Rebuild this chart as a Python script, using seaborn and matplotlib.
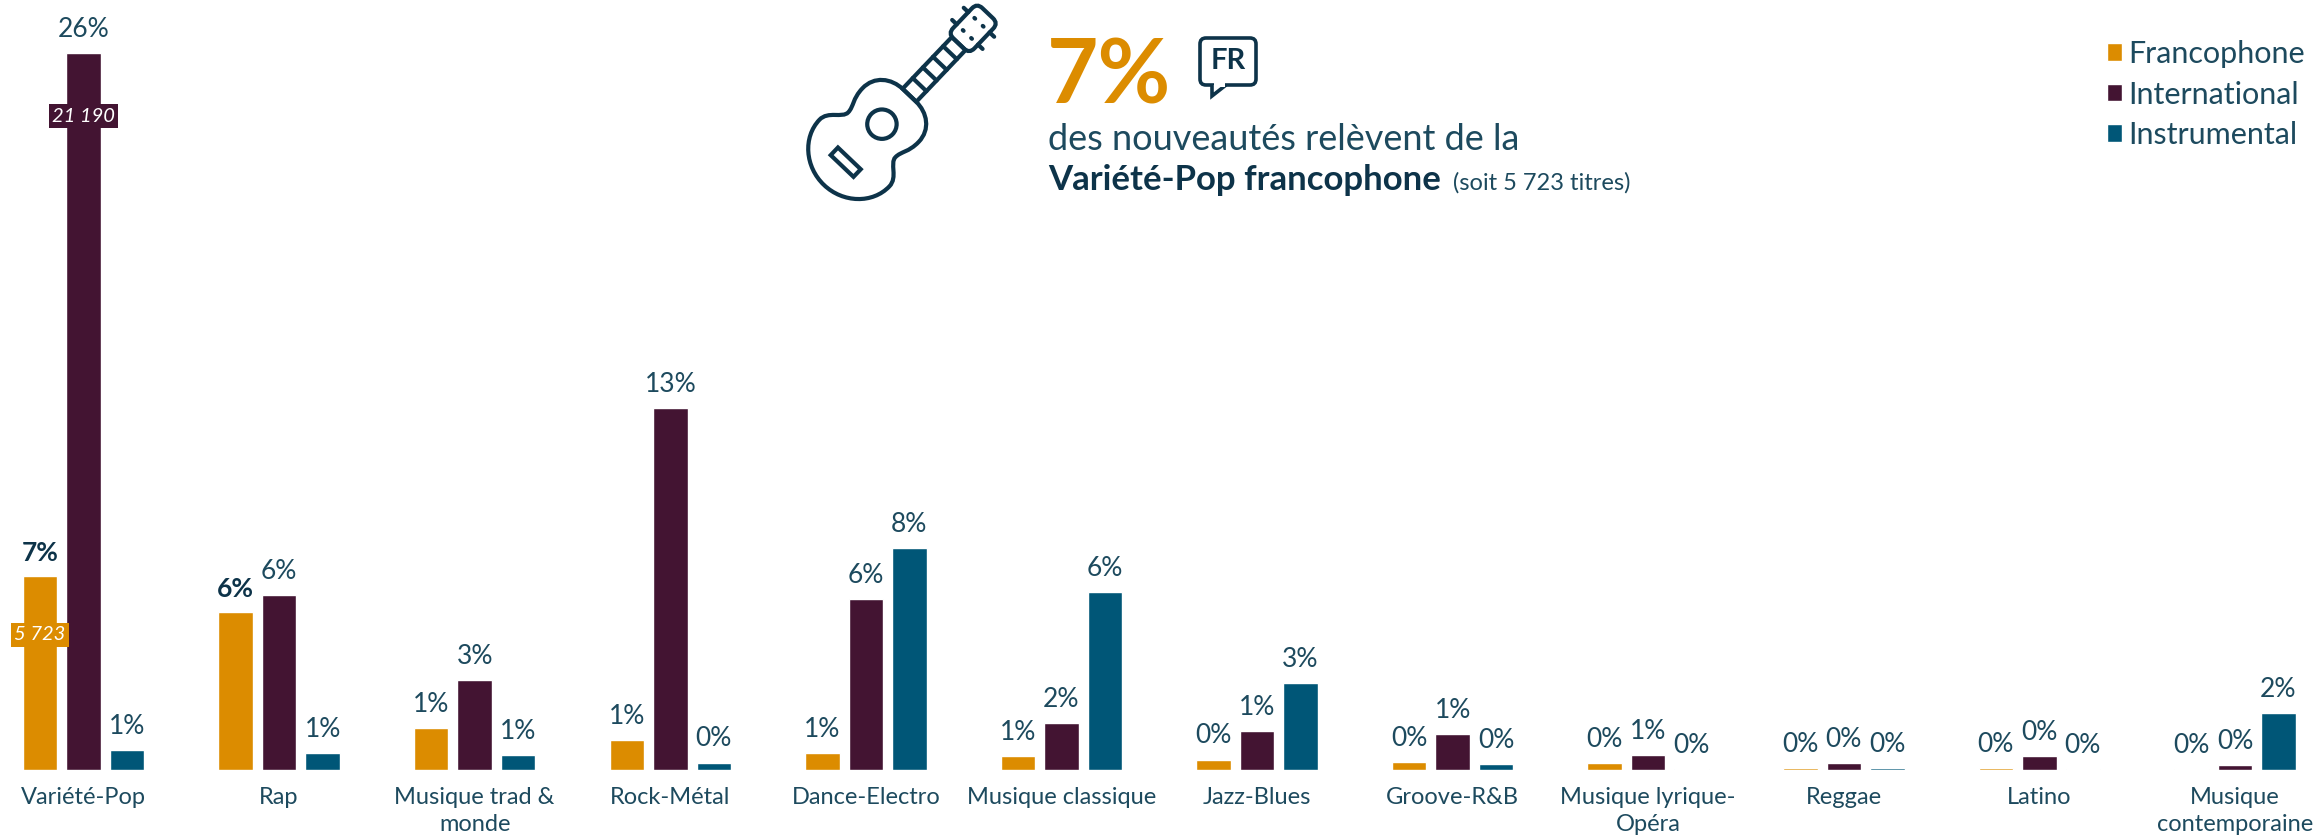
import pandas as pd
import matplotlib
matplotlib.use('Agg')
import matplotlib.pyplot as plt
import seaborn as sns
from matplotlib.patches import Circle, FancyBboxPatch, PathPatch, Rectangle
from matplotlib.path import Path
from matplotlib.transforms import Affine2D

genres = ['Variété-Pop', 'Rap', 'Musique trad &\nmonde', 'Rock-Métal', 'Dance-Electro',
          'Musique classique', 'Jazz-Blues', 'Groove-R&B', 'Musique lyrique-\nOpéra',
          'Reggae', 'Latino', 'Musique\ncontemporaine']
series = ['Francophone', 'International', 'Instrumental']
francophone = [5723, 4670, 1240, 890, 490, 410, 310, 228, 216, 68, 50, 20]
international = [21190, 5170, 2650, 10700, 5060, 1380, 1150, 1070, 453, 207, 404, 157]
instrumental = [580, 490, 450, 220, 6570, 5250, 2580, 177, 20, 50, 20, 1670]
pct_franco = ['7%', '6%', '1%', '1%', '1%', '1%', '0%', '0%', '0%', '0%', '0%', '0%']
pct_inter = ['26%', '6%', '3%', '13%', '6%', '2%', '1%', '1%', '1%', '0%', '0%', '0%']
pct_instru = ['1%', '1%', '1%', '0%', '8%', '6%', '3%', '0%', '0%', '0%', '0%', '2%']
colors = ['#DC8C00', '#431432', '#005677']
text_col = '#1D4A5E'
dark_col = '#0D3349'

df = pd.DataFrame({
    'genre': genres * 3,
    'serie': [s for s in series for _ in genres],
    'titres': francophone + international + instrumental,
})

sns.set_theme(style='white')
plt.rcParams['font.family'] = ['Lato', 'DejaVu Sans']

W, H = 2321, 835
base_px = 770
fig = plt.figure(figsize=(W / 100, H / 100), dpi=100)
ax = fig.add_axes([0, (H - base_px) / H, 1, base_px / H])
sns.barplot(data=df, x='genre', y='titres', hue='serie', order=genres, hue_order=series,
            palette=colors, saturation=1, width=0.667, gap=0.207, errorbar=None, ax=ax)
ax.set_xlim(-0.427, 11.44)
ax.set_ylim(0, 22754)
ax.set_xlabel('')
ax.set_ylabel('')
ax.set_yticks([])
ax.tick_params(axis='x', length=0, pad=12, labelsize=17, labelcolor=text_col)
for lab in ax.get_xticklabels():
    lab.set_linespacing(1.35)
sns.despine(ax=ax, left=True, bottom=True)

for cont, labels in zip(ax.containers, [pct_franco, pct_inter, pct_instru]):
    txts = ax.bar_label(cont, labels=labels, padding=8, fontsize=19, color=text_col)
    if labels is pct_franco:
        for t in txts[:2]:
            t.set_fontweight('bold')
            t.set_color(dark_col)

# valeurs en titres dans les barres de la Variété-Pop
ax.text(0 - 0.222, 4000, '5 723', ha='center', va='center', color='white', style='italic', fontsize=14.5,
        bbox=dict(fc=colors[0], ec='none', pad=2.5))
ax.text(0, 19320, '21 190', ha='center', va='center', color='white', style='italic', fontsize=14.5,
        bbox=dict(fc=colors[1], ec='none', pad=2.5))

leg = ax.legend(loc='upper left', bbox_to_anchor=(2107 / W, 1 - 40 / base_px), frameon=False, fontsize=22,
                handlelength=0.5, handleheight=0.5, handletextpad=0.2, labelspacing=0.41,
                borderpad=0, borderaxespad=0)
for t in leg.get_texts():
    t.set_color(text_col)

# calque en pixels pour le pictogramme et le texte d'encadre
ov = fig.add_axes([0, 0, 1, 1], facecolor='none')
ov.set_xlim(0, W)
ov.set_ylim(H, 0)
ov.axis('off')

ov.text(1047, 103, '7%', fontsize=64, fontweight='bold', color=colors[0], va='baseline')
ov.text(1048, 150, 'des nouveautés relèvent de la', fontsize=26, color=text_col, va='baseline')
ov.text(1048, 190, 'Variété-Pop francophone', fontsize=25, fontweight='bold', color=dark_col, va='baseline')
ov.text(1453, 190, '(soit 5 723 titres)', fontsize=17, color=text_col, va='baseline')

# bulle FR
ov.add_patch(FancyBboxPatch((1200, 38), 56, 47, boxstyle='round,pad=0,rounding_size=6', fc='none',
                            ec=dark_col, lw=2.6))
ov.add_patch(PathPatch(Path([(1212, 85), (1212, 96), (1226, 85)]), fc='white', ec=dark_col, lw=2.6))
ov.add_patch(Rectangle((1214, 82), 11, 5, fc='white', ec='none'))
ov.text(1228, 61, 'FR', fontsize=21, fontweight='bold', color=dark_col, ha='center', va='center')

# guitare : repere local (u le long du manche, v en travers), puis rotation
guitar = Affine2D().scale(1.05).rotate_deg(-46.4).translate(824, 185) + ov.transData
g = dict(fc='none', ec=dark_col, lw=3, transform=guitar)
top = [(0, 0), (0, -25), (19, -46), (42, -46), (54, -46), (58, -31), (66, -31),
       (74, -31), (78, -37), (92, -37), (108, -37), (118, -24), (118, -8)]
bottom = [(u, -v) for u, v in top[::-1]][1:]
body_pts = top + [(118, 8)] + bottom
codes = [Path.MOVETO] + [Path.CURVE4] * 12 + [Path.LINETO] + [Path.CURVE4] * 12
ov.add_patch(PathPatch(Path(body_pts, codes), **g))
ov.add_patch(Circle((80, 0), 14, **g))
ov.add_patch(Rectangle((25, -15), 10, 30, **g))
ov.add_patch(Rectangle((118, -9), 68, 18, **g))
for u in [132, 146, 160, 174]:
    ov.plot([u, u], [-9, 9], color=dark_col, lw=3, transform=guitar)
ov.add_patch(FancyBboxPatch((186, -14), 40, 28, boxstyle='round,pad=0,rounding_size=7', **g))
for u in [198, 214]:
    ov.plot([u, u], [-20, -14], color=dark_col, lw=3, transform=guitar)
    ov.plot([u, u], [14, 20], color=dark_col, lw=3, transform=guitar)
    ov.plot([u, u], [-6, -5], color=dark_col, lw=3, transform=guitar)
    ov.plot([u, u], [5, 6], color=dark_col, lw=3, transform=guitar)
ov.set_xlim(0, W)
ov.set_ylim(H, 0)

plt.savefig('out.png', dpi=100)
